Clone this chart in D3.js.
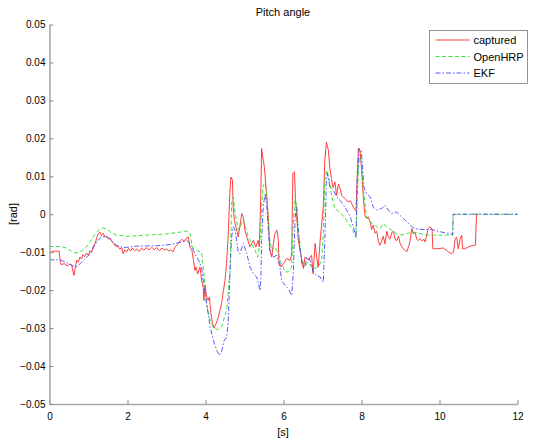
<!DOCTYPE html>
<html>
<head>
<meta charset="utf-8">
<script src="https://cdn.jsdelivr.net/npm/d3@7"></script>
<style>
  body { margin: 0; background: #fff; }
  svg { display: block; font-family: "Liberation Sans", Arial, sans-serif; }
  .tick text { font-size: 10px; fill: #000; }
</style>
</head>
<body>
<svg id="viz" width="537" height="441"></svg>
<script>
// Pitch angle: captured vs OpenHRP vs EKF, [t (s), angle (rad)]
const captured = [
  [0.00,-0.0104],[0.05,-0.0099],[0.15,-0.0097],[0.25,-0.0098],[0.27,-0.0121],[0.30,-0.0133],
  [0.38,-0.0130],[0.45,-0.0136],[0.52,-0.0131],[0.57,-0.0134],[0.60,-0.0150],[0.63,-0.0161],
  [0.66,-0.0140],[0.70,-0.0121],[0.74,-0.0126],[0.78,-0.0113],[0.82,-0.0118],[0.86,-0.0106],
  [0.90,-0.0112],[0.95,-0.0102],[1.00,-0.0108],[1.04,-0.0096],[1.08,-0.0100],[1.12,-0.0085],
  [1.17,-0.0077],[1.21,-0.0062],[1.25,-0.0051],[1.29,-0.0047],[1.33,-0.0056],[1.38,-0.0050],
  [1.42,-0.0060],[1.47,-0.0058],[1.52,-0.0066],[1.56,-0.0063],[1.60,-0.0072],[1.65,-0.0078],
  [1.70,-0.0085],[1.75,-0.0083],[1.80,-0.0092],[1.85,-0.0088],[1.89,-0.0104],[1.93,-0.0094],
  [1.98,-0.0099],[2.03,-0.0090],[2.08,-0.0097],[2.13,-0.0089],[2.18,-0.0096],[2.24,-0.0092],
  [2.30,-0.0098],[2.36,-0.0089],[2.42,-0.0095],[2.48,-0.0088],[2.55,-0.0094],[2.62,-0.0087],
  [2.68,-0.0093],[2.75,-0.0088],[2.82,-0.0096],[2.88,-0.0089],[2.95,-0.0095],[3.00,-0.0091],
  [3.05,-0.0097],[3.10,-0.0094],[3.17,-0.0099],[3.22,-0.0086],[3.28,-0.0080],[3.35,-0.0070],
  [3.40,-0.0066],[3.45,-0.0072],[3.50,-0.0064],[3.56,-0.0060],[3.60,-0.0086],[3.65,-0.0095],
  [3.69,-0.0121],[3.73,-0.0148],[3.76,-0.0139],[3.80,-0.0157],[3.86,-0.0139],[3.90,-0.0174],
  [3.94,-0.0192],[3.96,-0.0227],[3.99,-0.0187],[4.03,-0.0218],[4.07,-0.0227],[4.10,-0.0218],
  [4.14,-0.0262],[4.18,-0.0288],[4.22,-0.0300],[4.25,-0.0293],[4.29,-0.0284],[4.33,-0.0271],
  [4.37,-0.0253],[4.41,-0.0236],[4.46,-0.0201],[4.50,-0.0174],[4.54,-0.0130],[4.58,-0.0060],
  [4.62,0.0046],[4.65,0.0098],[4.69,0.0090],[4.71,0.0019],[4.74,-0.0016],[4.80,-0.0042],
  [4.84,-0.0060],[4.88,-0.0033],[4.93,0.0002],[4.97,-0.0007],[5.01,-0.0042],[5.06,-0.0060],
  [5.14,-0.0086],[5.23,-0.0069],[5.29,-0.0086],[5.35,-0.0069],[5.38,-0.0086],[5.41,0.0019],
  [5.44,0.0173],[5.48,0.0142],[5.51,0.0125],[5.57,0.0046],[5.61,-0.0007],[5.65,-0.0095],
  [5.70,-0.0113],[5.74,-0.0077],[5.78,-0.0051],[5.83,-0.0042],[5.87,-0.0069],[5.88,-0.0121],
  [5.94,-0.0139],[6.00,-0.0130],[6.08,-0.0117],[6.17,-0.0121],[6.21,-0.0104],[6.24,0.0107],
  [6.28,0.0112],[6.31,0.0037],[6.34,-0.0007],[6.38,-0.0069],[6.47,-0.0121],[6.51,-0.0143],
  [6.55,-0.0113],[6.64,-0.0121],[6.72,-0.0108],[6.76,-0.0157],[6.81,-0.0077],[6.85,-0.0113],
  [6.89,-0.0139],[6.94,-0.0069],[7.02,0.0019],[7.06,0.0142],[7.10,0.0190],[7.15,0.0169],
  [7.19,0.0120],[7.23,0.0094],[7.27,0.0070],[7.32,0.0085],[7.36,0.0050],[7.41,0.0080],
  [7.45,0.0068],[7.49,0.0050],[7.53,0.0046],[7.58,0.0041],[7.66,0.0032],[7.71,0.0036],
  [7.79,0.0019],[7.86,0.0008],[7.89,0.0100],[7.92,0.0173],[7.96,0.0170],[8.00,0.0120],
  [8.05,0.0040],[8.09,-0.0003],[8.13,-0.0011],[8.17,-0.0007],[8.22,-0.0020],[8.26,-0.0040],
  [8.30,-0.0029],[8.35,-0.0050],[8.39,-0.0045],[8.43,-0.0070],[8.47,-0.0082],[8.52,-0.0070],
  [8.56,-0.0058],[8.60,-0.0078],[8.65,-0.0045],[8.69,-0.0060],[8.73,-0.0066],[8.78,-0.0048],
  [8.82,-0.0045],[8.86,-0.0065],[8.90,-0.0070],[8.95,-0.0058],[8.99,-0.0077],[9.03,-0.0085],
  [9.07,-0.0091],[9.12,-0.0095],[9.16,-0.0099],[9.20,-0.0088],[9.24,-0.0073],[9.29,-0.0038],
  [9.33,-0.0052],[9.37,-0.0047],[9.42,-0.0066],[9.46,-0.0069],[9.50,-0.0064],[9.55,-0.0070],
  [9.60,-0.0066],[9.63,-0.0073],[9.71,-0.0038],[9.76,-0.0033],[9.81,-0.0040],[9.83,-0.0091],
  [9.93,-0.0091],[10.10,-0.0089],[10.23,-0.0099],[10.31,-0.0104],[10.36,-0.0100],[10.40,-0.0064],
  [10.44,-0.0060],[10.48,-0.0091],[10.53,-0.0064],[10.57,-0.0055],[10.59,-0.0091],[10.65,-0.0091],
  [10.74,-0.0086],[10.87,-0.0082],[10.92,-0.0082],[10.95,0.0000]
];

const openhrp = [
  [0.00,-0.0085],[0.31,-0.0085],[0.45,-0.0090],[0.60,-0.0100],[0.70,-0.0102],[0.85,-0.0095],
  [1.00,-0.0080],[1.15,-0.0055],[1.28,-0.0040],[1.38,-0.0036],[1.48,-0.0040],[1.60,-0.0050],
  [1.72,-0.0055],[2.00,-0.0058],[2.50,-0.0055],[3.00,-0.0052],[3.30,-0.0048],[3.52,-0.0044],
  [3.60,-0.0050],[3.65,-0.0080],[3.69,-0.0092],[3.80,-0.0097],[3.90,-0.0100],[3.94,-0.0139],
  [4.03,-0.0236],[4.12,-0.0280],[4.20,-0.0298],[4.29,-0.0304],[4.41,-0.0297],[4.54,-0.0253],
  [4.63,-0.0148],[4.67,0.0030],[4.71,0.0045],[4.76,0.0005],[4.84,-0.0042],[4.90,-0.0030],
  [4.97,-0.0016],[5.10,-0.0060],[5.27,-0.0095],[5.34,-0.0113],[5.40,-0.0069],[5.44,0.0019],
  [5.48,0.0077],[5.53,0.0081],[5.57,0.0055],[5.61,-0.0025],[5.65,-0.0069],[5.70,-0.0095],
  [5.78,-0.0086],[5.87,-0.0104],[5.95,-0.0130],[6.04,-0.0152],[6.12,-0.0152],[6.21,-0.0139],
  [6.25,-0.0025],[6.30,0.0046],[6.34,0.0011],[6.40,-0.0060],[6.47,-0.0121],[6.55,-0.0135],
  [6.64,-0.0126],[6.72,-0.0139],[6.81,-0.0143],[6.89,-0.0139],[6.98,-0.0121],[7.02,-0.0051],
  [7.06,0.0090],[7.11,0.0116],[7.17,0.0090],[7.24,0.0046],[7.32,0.0015],[7.41,0.0008],
  [7.49,0.0000],[7.58,-0.0010],[7.71,-0.0030],[7.79,-0.0045],[7.86,-0.0062],[7.89,0.0046],
  [7.94,0.0151],[7.99,0.0142],[8.05,0.0063],[8.13,-0.0007],[8.22,-0.0020],[8.35,-0.0029],
  [8.47,-0.0038],[8.56,-0.0025],[8.65,-0.0033],[8.77,-0.0042],[8.90,-0.0051],[9.03,-0.0055],
  [9.16,-0.0051],[9.33,-0.0047],[9.50,-0.0051],[9.67,-0.0055],[10.00,-0.0055],[10.34,-0.0055],
  [10.35,0.0000],[12.00,0.0000]
];

const ekf = [
  [0.00,-0.0120],[0.27,-0.0120],[0.45,-0.0128],[0.60,-0.0136],[0.70,-0.0139],[0.87,-0.0121],
  [1.04,-0.0104],[1.21,-0.0073],[1.34,-0.0058],[1.45,-0.0060],[1.55,-0.0064],[1.72,-0.0082],
  [1.89,-0.0088],[2.24,-0.0084],[2.75,-0.0083],[3.09,-0.0080],[3.39,-0.0073],[3.52,-0.0069],
  [3.60,-0.0077],[3.69,-0.0095],[3.73,-0.0104],[3.82,-0.0121],[3.90,-0.0139],[3.94,-0.0174],
  [4.03,-0.0236],[4.12,-0.0297],[4.20,-0.0332],[4.29,-0.0359],[4.35,-0.0372],[4.41,-0.0363],
  [4.48,-0.0332],[4.54,-0.0324],[4.58,-0.0288],[4.63,-0.0148],[4.67,-0.0060],[4.71,-0.0033],
  [4.76,-0.0042],[4.84,-0.0099],[4.88,-0.0104],[4.97,-0.0077],[5.06,-0.0104],[5.14,-0.0139],
  [5.23,-0.0157],[5.31,-0.0165],[5.40,-0.0201],[5.42,-0.0165],[5.44,-0.0069],[5.48,0.0019],
  [5.53,0.0055],[5.57,0.0024],[5.61,-0.0042],[5.65,-0.0095],[5.74,-0.0113],[5.83,-0.0108],
  [5.91,-0.0139],[5.95,-0.0174],[6.04,-0.0187],[6.12,-0.0196],[6.21,-0.0214],[6.25,-0.0157],
  [6.30,-0.0007],[6.34,0.0019],[6.38,-0.0051],[6.47,-0.0130],[6.55,-0.0139],[6.60,-0.0113],
  [6.68,-0.0121],[6.76,-0.0152],[6.85,-0.0161],[6.94,-0.0165],[7.02,-0.0179],[7.06,-0.0069],
  [7.10,0.0090],[7.13,0.0107],[7.19,0.0072],[7.28,0.0063],[7.36,0.0046],[7.45,0.0037],
  [7.58,0.0019],[7.71,-0.0007],[7.79,-0.0033],[7.86,-0.0060],[7.89,0.0090],[7.94,0.0173],
  [7.99,0.0169],[8.02,0.0134],[8.06,0.0072],[8.13,0.0055],[8.22,0.0046],[8.30,0.0019],
  [8.39,0.0011],[8.52,0.0015],[8.60,0.0024],[8.69,0.0011],[8.77,0.0002],[8.90,0.0006],
  [8.99,-0.0003],[9.07,-0.0011],[9.16,-0.0020],[9.29,-0.0033],[9.37,-0.0038],[9.55,-0.0040],
  [9.80,-0.0040],[10.01,-0.0046],[10.34,-0.0053],[10.35,0.0000],[12.00,0.0000]
];

const xTicks = [0, 2, 4, 6, 8, 10, 12];
const yTicks = [-0.05, -0.04, -0.03, -0.02, -0.01, 0, 0.01, 0.02, 0.03, 0.04, 0.05];
const seriesNames = ['captured', 'OpenHRP', 'EKF'];

const svg = d3.select('#viz');
const margin = { left: 49.5, right: 19.5, top: 24.5, bottom: 37 };
const width = +svg.attr('width'), height = +svg.attr('height');

const x = d3.scaleLinear().domain([0, 12]).range([margin.left, width - margin.right]);
const y = d3.scaleLinear().domain([-0.05, 0.05]).range([height - margin.bottom, margin.top]);

svg.append('rect').attr('width', width).attr('height', height).attr('fill', '#fff');

// series styles (matlab r-, g--, b-.), a bit pale like the antialiased original
const styles = [
  { data: captured, color: '#ff2a2a', dash: null, w: 0.9 },
  { data: openhrp, color: '#22e022', dash: '4,2.5', w: 0.9 },
  { data: ekf, color: '#4747ff', dash: '5,2,1.5,2', w: 0.9 }
];

const line = d3.line().x(d => x(d[0])).y(d => y(d[1]));

styles.forEach(s => {
  svg.append('path').datum(s.data).attr('d', line)
    .attr('fill', 'none').attr('stroke', s.color).attr('stroke-width', s.w)
    .attr('stroke-dasharray', s.dash).attr('stroke-linejoin', 'round');
});

// axes: only left and bottom, ticks inward
const xAxis = svg.append('g').attr('transform', `translate(0,${y(-0.05)})`)
  .call(d3.axisBottom(x).tickValues(xTicks).tickSizeInner(-4).tickSizeOuter(0).tickPadding(9).tickFormat(d3.format('d')));
const yAxis = svg.append('g').attr('transform', `translate(${x(0)},0)`)
  .call(d3.axisLeft(y).tickValues(yTicks).tickSizeInner(-4).tickSizeOuter(0).tickPadding(4)
    .tickFormat(d => d === 0 ? '0' : d3.format('.2f')(d)));

[xAxis, yAxis].forEach(a => {
  a.select('.domain').attr('stroke', '#aaa').attr('stroke-width', 1.6);
  a.selectAll('.tick line').attr('stroke', '#888');
});

// title and axis labels
svg.append('text').attr('x', 283).attr('y', 16).attr('text-anchor', 'middle')
  .style('font-size', '11px').text('Pitch angle');
svg.append('text').attr('x', 283).attr('y', 436).attr('text-anchor', 'middle')
  .style('font-size', '11px').text('[s]');
svg.append('text').attr('transform', 'translate(17,214) rotate(-90)').attr('text-anchor', 'middle')
  .style('font-size', '11px').text('[rad]');

// legend
const lg = svg.append('g').attr('transform', 'translate(429.5,30.5)');
lg.append('rect').attr('width', 98).attr('height', 53).attr('fill', '#fff').attr('stroke', '#777').attr('stroke-width', 0.8);
seriesNames.forEach((name, i) => {
  const yy = 9.5 + i * 16.5;
  lg.append('line').attr('x1', 6).attr('x2', 40).attr('y1', yy).attr('y2', yy)
    .attr('stroke', styles[i].color).attr('stroke-width', 0.9).attr('stroke-dasharray', styles[i].dash);
  lg.append('text').attr('x', 44).attr('y', yy + 4).style('font-size', '11px').text(name);
});
</script>
</body>
</html>
